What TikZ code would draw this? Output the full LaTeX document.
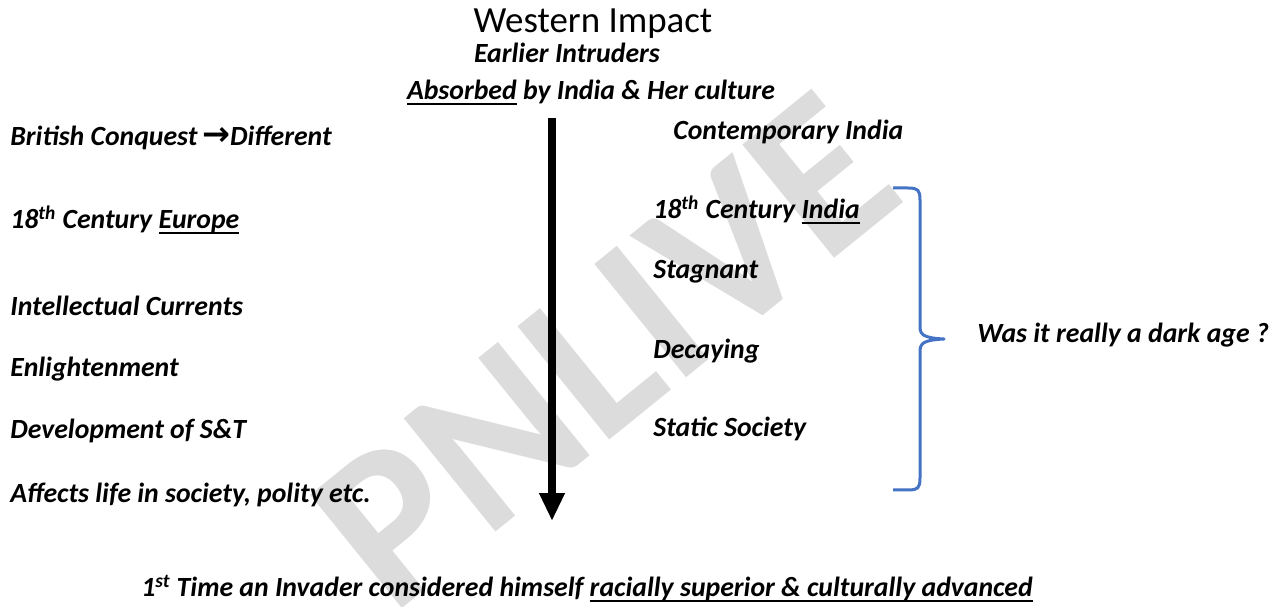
\documentclass[tikz,border=0pt]{standalone}
\usepackage{fontspec}
\setmainfont{Carlito}
\newfontfamily\symfont{DejaVu Sans}
\newcommand{\uln}[1]{\setbox0\hbox{#1}\rlap{\vrule height -1.6pt depth 3pt width \wd0}\box0\relax}
\usetikzlibrary{arrows.meta}
\definecolor{brblue}{HTML}{4472C4}
\definecolor{wmgray}{HTML}{DCDCDC}

\begin{document}
\begin{tikzpicture}[>=Stealth,x=0.02cm,y=-0.02cm,
  lbl/.style={anchor=base west,inner sep=0pt,font=\fontsize{15.8}{18}\selectfont\bfseries\itshape},
  ttl/.style={anchor=base,inner sep=0pt,font=\fontsize{21}{24}\selectfont}]
  \useasboundingbox (0,0) rectangle (1286,607);

  % ===== WATERMARK =====
  \node[wmgray,rotate=39,font=\fontsize{128}{128}\selectfont\bfseries] (mark) at (605,350) {PNLIVE};

  % ===== TOP =====
  \node[ttl] (title) at (593,33) {Western Impact};
  \node[lbl,anchor=base] (earlier) at (567,63) {Earlier Intruders};
  \node[lbl,anchor=base] (absorbed) at (591,100) {\uln{Absorbed} by India \& Her culture};

  % ===== LEFT =====
  \node[lbl] (british) at (10,146) {British Conquest\,{\symfont\bfseries\fontsize{19}{20}\selectfont→}Different};
  \node[lbl] (europe) at (10,229) {18\textsuperscript{th} Century \uln{Europe}};
  \node[lbl] (currents) at (10,316) {Intellectual Currents};
  \node[lbl] (enlight) at (10,377) {Enlightenment};
  \node[lbl] (devst) at (10,439) {Development of S\&T};
  \node[lbl] (affects) at (10,503) {Affects life in society, polity etc.};

  % ===== RIGHT =====
  \node[lbl] (contemp) at (673,140) {Contemporary India};
  \node[lbl] (india) at (653,219) {18\textsuperscript{th} Century \uln{India}};
  \node[lbl] (stagnant) at (653,279) {Stagnant};
  \node[lbl] (decaying) at (653,359) {Decaying};
  \node[lbl] (static) at (653,437) {Static Society};
  \node[lbl] (dark) at (977,343) {Was it really a dark age ?};

  % ===== BOTTOM =====
  \node[lbl,anchor=base] (invader) at (587,597)
    {1\textsuperscript{st} Time an Invader considered himself \uln{racially superior \& culturally advanced}};

  % ===== TIME ARROW =====
  \coordinate (atop) at (552,118);
  \coordinate (atip) at (552,521);
  \draw[line width=0.16cm,-{Triangle[width=0.48cm,length=0.56cm]}] (atop) -- (atip);

  % ===== BRACE =====
  \draw[brblue,line width=0.06cm,line join=round]
    (893,188) -- (908,188) .. controls (918,188) and (920,190) .. (920,200)
    -- (920,326) .. controls (920,334) and (922,338) .. (944,339)
    .. controls (922,340) and (920,344) .. (920,352)
    -- (920,478) .. controls (920,488) and (918,490) .. (908,490) -- (893,490);

\end{tikzpicture}
\end{document}
